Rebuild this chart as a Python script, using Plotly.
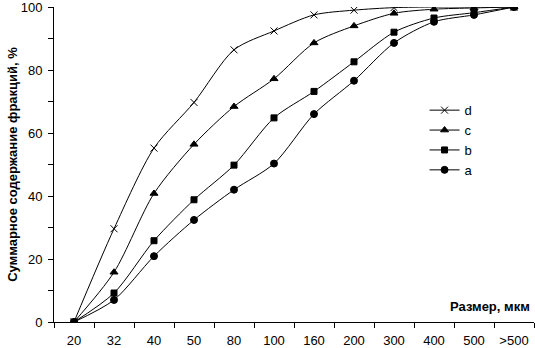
import plotly.graph_objects as go

categories = ["20", "32", "40", "50", "80", "100", "160", "200", "300", "400", "500", ">500"]
series_d = [0, 29.6, 55.2, 69.7, 86.4, 92.4, 97.5, 99.0, 99.8, 100, 100, 100]
series_c = [0, 15.8, 40.8, 56.4, 68.4, 77.2, 88.6, 94.0, 98.0, 99.3, 99.7, 100]
series_b = [0, 9.2, 25.8, 38.8, 49.8, 64.8, 73.2, 82.6, 92.0, 96.5, 98.2, 100]
series_a = [0, 7.0, 20.9, 32.4, 42.0, 50.3, 66.0, 76.6, 88.6, 95.3, 97.5, 100]
y_ticks = [0, 10, 20, 30, 40, 50, 60, 70, 80, 90, 100]
y_labels = ["0", "", "20", "", "40", "", "60", "", "80", "", "100"]

FONT = "Liberation Sans, Arial, sans-serif"

fig = go.Figure()
specs = [("d", series_d, "x-thin", 7), ("c", series_c, "triangle-up", 7),
         ("b", series_b, "square", 6), ("a", series_a, "circle", 7)]
for name, vals, sym, size in specs:
    fig.add_trace(go.Scatter(
        x=categories, y=vals, name=name, mode="lines+markers",
        line=dict(color="black", width=1, shape="spline", smoothing=0.8),
        marker=dict(symbol=sym, size=size, color="black",
                    line=dict(color="black", width=1)),
    ))

fig.update_layout(
    width=535, height=348,
    margin=dict(l=54, r=1, t=7, b=26, autoexpand=False),
    paper_bgcolor="white", plot_bgcolor="white",
    font=dict(family=FONT, size=13, color="black"),
    showlegend=True,
    legend=dict(x=0.772, y=0.72, xanchor="left", yanchor="top",
                bgcolor="rgba(0,0,0,0)", font=dict(size=13),
                itemwidth=30, tracegroupgap=0),
)
fig.update_xaxes(
    type="category", showline=True, linecolor="black", linewidth=1,
    ticks="outside", ticklen=5, tickcolor="black", tickson="boundaries",
    showgrid=False, zeroline=False, mirror=False, automargin=False,
    range=[-0.5, len(categories) - 0.5],
    tickfont=dict(size=13), ticklabelstandoff=6, ticklabeloverflow="allow",
)
fig.update_yaxes(
    range=[0, 100], showline=True, linecolor="black", linewidth=1,
    ticks="outside", ticklen=5, tickcolor="black", automargin=False,
    tickvals=y_ticks, ticktext=y_labels,
    showgrid=False, zeroline=False,
    tickfont=dict(size=13), ticklabelstandoff=3, ticklabeloverflow="allow",
    title=dict(text="<b>Суммарное содержание фракций, %</b>", font=dict(size=13), standoff=0),
)
fig.add_annotation(
    text="<b>Размер, мкм</b>", xref="paper", yref="paper",
    x=0.995, y=0.02, xanchor="right", yanchor="bottom",
    showarrow=False, font=dict(size=13, family=FONT),
)
fig.write_html("out.html", config={"displayModeBar": False},
               post_script="document.body.style.margin='0';")
